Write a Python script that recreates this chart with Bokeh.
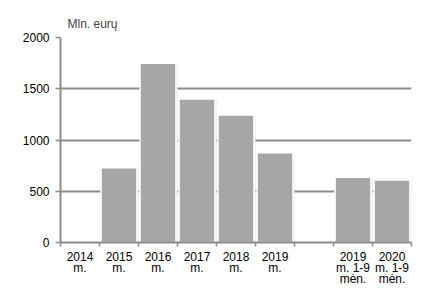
from bokeh.plotting import figure
from bokeh.models import FixedTicker, Range1d, ColumnDataSource
from bokeh.embed import file_html
from bokeh.resources import INLINE

# data
categories = ["2014 m.", "2015 m.", "2016 m.", "2017 m.", "2018 m.", "2019 m.",
              "2019 m. 1-9 mėn.", "2020 m. 1-9 mėn."]
tick_labels = ["2014\nm.", "2015\nm.", "2016\nm.", "2017\nm.", "2018\nm.", "2019\nm.",
               "2019\nm. 1-9\nmėn.", "2020\nm. 1-9\nmėn."]
values = [0, 730, 1750, 1400, 1245, 875, 637, 609]
y_ticks = [0, 500, 1000, 1500, 2000]
gap_before = 6  # an empty slot before the 9-month categories

slots = [i + (1 if i >= gap_before else 0) for i in range(len(categories))]
xs = [s + 0.5 for s in slots]
n_slots = len(categories) + 1

src = ColumnDataSource(dict(x=xs, top=values, cat=categories))

FONT = "Liberation Sans"
GRID = "#8c8c8c"

p = figure(width=414, height=289, output_backend="svg", toolbar_location=None,
           x_range=Range1d(0, n_slots), y_range=Range1d(0, 2000),
           min_border_left=60, min_border_right=3, min_border_top=37,
           min_border_bottom=44)
p.outline_line_color = None
p.background_fill_color = "white"
p.border_fill_color = "white"

p.title.text = "Mln. eurų"
p.title.text_font = FONT
p.title.text_font_size = "12px"
p.title.text_font_style = "normal"
p.title.offset = 7
p.title.standoff = 14

# shadow + bars
p.vbar(x=[x + 0.04 for x in xs], top=values, bottom=0, width=0.92,
       fill_color="#e6e6e6", line_color=None)
p.vbar(x="x", top="top", bottom=0, width=0.92, source=src,
       fill_color="#a6a6a6", line_color="white", line_width=1.5)

# x axis: labels at centers, tick marks at slot boundaries
xa = p.xaxis[0]
xa.ticker = FixedTicker(ticks=xs, minor_ticks=list(range(n_slots + 1)))
xa.major_label_overrides = {x: lab for x, lab in zip(xs, tick_labels)}
xa.major_tick_in = 0
xa.major_tick_out = 0
xa.minor_tick_in = 0
xa.minor_tick_out = 4
xa.minor_tick_line_color = GRID
xa.minor_tick_line_width = 1.5
xa.axis_line_color = GRID
xa.axis_line_width = 2
xa.major_label_text_font = FONT
xa.major_label_text_font_size = "12px"
xa.major_label_text_color = "black"
xa.major_label_standoff = 3
xa.major_label_text_line_height = 0.82

ya = p.yaxis[0]
ya.ticker = FixedTicker(ticks=y_ticks)
ya.minor_tick_line_color = None
ya.major_tick_in = 0
ya.major_tick_out = 5
ya.major_tick_line_color = GRID
ya.major_tick_line_width = 1.5
ya.axis_line_color = GRID
ya.axis_line_width = 2
ya.major_label_text_font = FONT
ya.major_label_text_font_size = "12px"
ya.major_label_text_color = "black"
ya.major_label_standoff = 6

p.xgrid.grid_line_color = None
p.ygrid.ticker = FixedTicker(ticks=y_ticks)
p.ygrid.grid_line_color = GRID
p.ygrid.grid_line_width = 2
p.ygrid.level = "underlay"

open("out.html", "w").write(file_html(p, INLINE))
